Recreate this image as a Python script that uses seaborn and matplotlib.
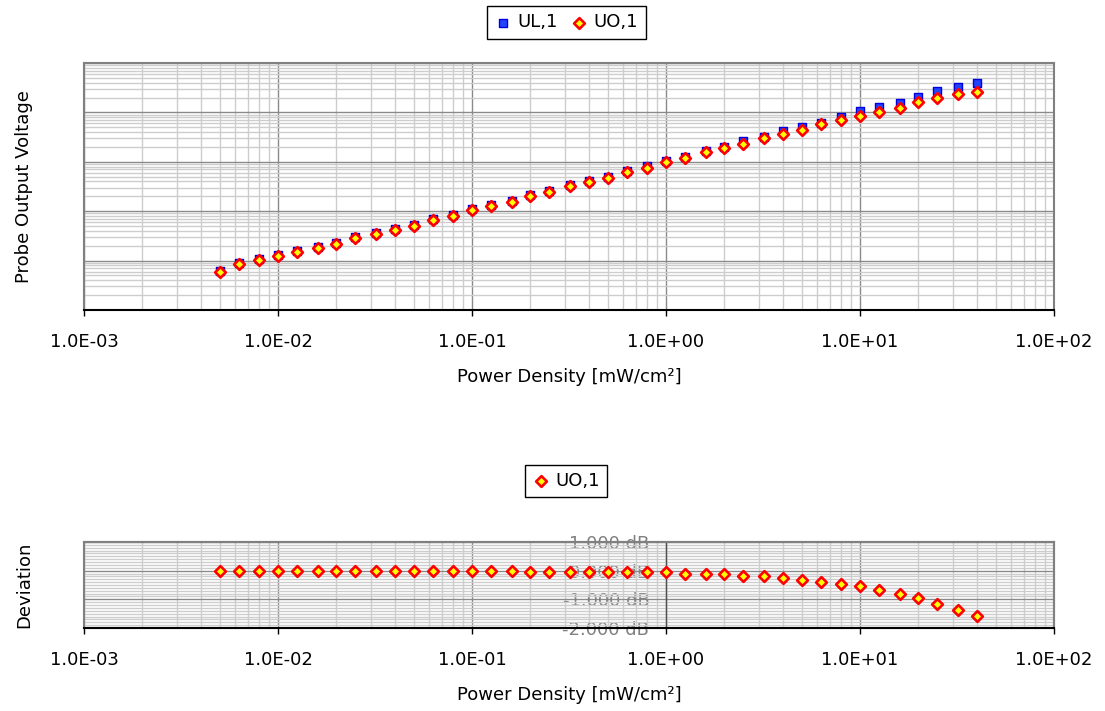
import matplotlib
matplotlib.use('Agg')
import matplotlib.pyplot as plt
import matplotlib.ticker as mticker
from matplotlib.patches import Rectangle
import seaborn as sns

# Data
power = [0.005, 0.0063, 0.008, 0.01, 0.0125, 0.016, 0.02, 0.025, 0.032, 0.04,
         0.05, 0.063, 0.08, 0.1, 0.125, 0.16, 0.2, 0.25, 0.32, 0.4,
         0.5, 0.63, 0.8, 1.0, 1.25, 1.6, 2.0, 2.5, 3.2, 4.0,
         5.0, 6.3, 8.0, 10.0, 12.5, 16.0, 20.0, 25.0, 32.0, 40.0]
ul_1 = [0.615, 0.893, 1.08, 1.30, 1.56, 1.88, 2.27, 3.00, 3.62, 4.36,
        5.26, 6.95, 8.38, 11.1, 13.4, 16.1, 21.3, 25.6, 33.9, 40.8,
        49.2, 65.1, 82.2, 104, 125, 166, 199, 264, 318, 420,
        506, 610, 807, 1067, 1285, 1549, 2051, 2710, 3266, 3936]
uo_1 = [0.587, 0.853, 1.03, 1.24, 1.49, 1.80, 2.17, 2.87, 3.45, 4.16,
        5.01, 6.64, 8.00, 10.6, 12.7, 15.4, 20.3, 24.5, 32.4, 39.0,
        47.0, 62.2, 74.9, 99.1, 119, 158, 190, 229, 303, 366,
        440, 582, 702, 845, 1019, 1227, 1625, 1956, 2357, 2588]
deviation = [0.0, 0.0, 0.0, 0.0, 0.0, 0.0, 0.0, 0.0, 0.0, 0.0,
             0.0, 0.0, 0.0, 0.0, 0.0, 0.0, -0.06, -0.06, -0.06, -0.06,
             -0.06, -0.06, -0.06, -0.06, -0.13, -0.13, -0.13, -0.2, -0.2, -0.26,
             -0.33, -0.40, -0.46, -0.54, -0.68, -0.80, -0.95, -1.15, -1.36, -1.58]
dev_ticks = [-2, -1, 0, 1]

sns.set_style('white')
plt.rcParams['font.family'] = ['DejaVu Sans']
plt.rcParams['text.color'] = 'black'
plt.rcParams['axes.labelcolor'] = 'black'
plt.rcParams['xtick.color'] = 'black'
plt.rcParams['ytick.color'] = 'black'

FS = 13
MAJOR = '#8a8a8a'
MINOR = '#cdcdcd'
FRAME = '#808080'

fig = plt.figure(figsize=(11.05, 7.11), dpi=100)
ax1 = fig.add_axes([84 / 1105, 1 - 310 / 711, 970 / 1105, 247 / 711])
ax2 = fig.add_axes([84 / 1105, 1 - 628 / 711, 970 / 1105, 86 / 711])


def style_x(ax):
    ax.set_xscale('log')
    ax.set_xlim(1e-3, 1e2)
    ax.xaxis.set_major_locator(mticker.LogLocator(base=10, numticks=20))
    ax.xaxis.set_minor_locator(mticker.LogLocator(base=10, subs=range(2, 10), numticks=20))
    ax.xaxis.set_major_formatter(mticker.FuncFormatter(lambda v, p: f'{v:.1E}'))
    ax.xaxis.set_minor_formatter(mticker.NullFormatter())
    ax.tick_params(axis='x', which='major', direction='out', length=4.5, width=1,
                   color='black', labelcolor='black', pad=12, labelsize=FS, bottom=True)
    ax.tick_params(axis='x', which='minor', length=0)
    ax.grid(True, which='major', color=MAJOR, lw=1)
    ax.grid(True, which='minor', color=MINOR, lw=1)
    ax.set_axisbelow(True)
    for s in ['top', 'right', 'left']:
        ax.spines[s].set_color(FRAME)
        ax.spines[s].set_linewidth(1.5)
    ax.spines['bottom'].set_color('black')
    ax.spines['bottom'].set_linewidth(1.5)
    ax.set_xlabel('Power Density [mW/cm²]', fontsize=FS, labelpad=12)


# Top chart: probe output voltage
sns.scatterplot(x=power, y=ul_1, ax=ax1, marker='s', s=32, color='#2244ff',
                edgecolor='#0000dd', linewidth=1, label='UL,1', zorder=3)
sns.scatterplot(x=power, y=uo_1, ax=ax1, marker='D', s=30, color='#ffff00',
                edgecolor='#ff0000', linewidth=1.9, label='UO,1', zorder=4)
style_x(ax1)
ax1.set_yscale('log')
ax1.set_ylim(0.1, 1e4)
ax1.yaxis.set_major_locator(mticker.LogLocator(base=10, numticks=10))
ax1.yaxis.set_minor_locator(mticker.LogLocator(base=10, subs=range(2, 10), numticks=10))
ax1.tick_params(axis='y', which='both', left=False, labelleft=False)
ax1.set_ylabel('Probe Output Voltage', fontsize=FS)
ax1.yaxis.set_label_coords(-0.0526, 0.5)
ax1.legend(loc='center', bbox_to_anchor=(0.497, 1.164), ncol=2, fontsize=FS,
           frameon=True, fancybox=False, edgecolor='black', framealpha=1,
           handletextpad=0.3, columnspacing=0.7, borderpad=0.4, handlelength=1.0)

# Bottom chart: deviation
sns.scatterplot(x=power, y=deviation, ax=ax2, marker='D', s=30, color='#ffff00',
                edgecolor='#ff0000', linewidth=1.9, label='UO,1', zorder=4)
style_x(ax2)
ax2.set_ylim(-2, 1)
ax2.set_yticks(dev_ticks)
ax2.yaxis.set_minor_locator(mticker.MultipleLocator(0.1))
ax2.yaxis.set_major_formatter(mticker.FuncFormatter(lambda v, p: f'{v:.3f} dB'))
ax2.spines['left'].set_position(('data', 1.0))
ax2.spines['left'].set_color('#505050')
ax2.spines['left'].set_linewidth(1)
ax2.tick_params(axis='y', which='both', length=0, pad=12, labelsize=FS,
                labelcolor='#808080')
ax2.add_patch(Rectangle((0, 0), 1, 1, transform=ax2.transAxes, fill=False,
                        edgecolor=FRAME, lw=1.5, zorder=1, clip_on=False))
ax2.set_ylabel('Deviation', fontsize=FS)
ax2.yaxis.set_label_coords(-0.0526, 0.5)
ax2.legend(loc='center', bbox_to_anchor=(0.497, 1.709), fontsize=FS,
           frameon=True, fancybox=False, edgecolor='black', framealpha=1,
           handletextpad=0.3, borderpad=0.4, handlelength=1.0)

fig.savefig('out.png', dpi=100)
